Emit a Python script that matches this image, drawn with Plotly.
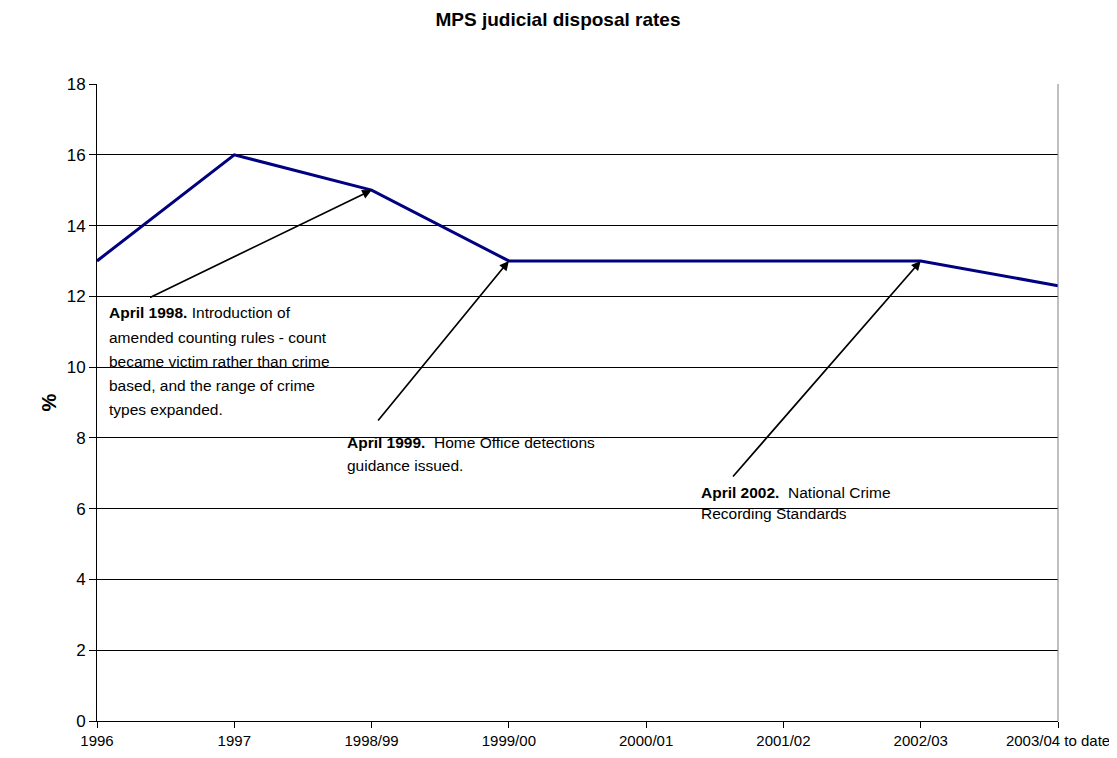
import plotly.graph_objects as go

categories = ["1996", "1997", "1998/99", "1999/00", "2000/01", "2001/02", "2002/03", "2003/04 to date"]
rates = [13, 16, 15, 13, 13, 13, 13, 12.3]
y_ticks = [0, 2, 4, 6, 8, 10, 12, 14, 16, 18]

OFF = 8  # page body margin
W, H = 1117 - OFF, 758 - OFF
L, R, T, B = 97, 1058, 84, 721
FONT = "Arial, Liberation Sans, sans-serif"

def px_paper(px, py):
    return (px - L) / (R - L), (B - py) / (B - T)

idx = list(range(len(categories)))

fig = go.Figure()
fig.add_trace(go.Scatter(x=idx, y=rates, mode="lines",
                         line=dict(color="#000080", width=3), showlegend=False,
                         hoverinfo="skip"))

annotations = []
# arrows: (category index, value, tail dx, tail dy in pixels)
arrows = [(2, rates[2], -223, 108), (3, rates[3], -132, 161), (6, rates[6], -189, 217)]
for xi, yv, dx, dy in arrows:
    annotations.append(dict(x=xi, y=yv, xref="x", yref="y", text="", showarrow=True,
                            ax=dx, ay=dy, axref="pixel", ayref="pixel",
                            arrowhead=2, arrowsize=1.1, arrowwidth=1.7,
                            arrowcolor="black", standoff=0, startstandoff=0))

text_blocks = [
    (109, [312, 337, 361, 385, 409],
     ["<b>April 1998.</b> Introduction of", "amended counting rules - count",
      "became victim rather than crime", "based, and the range of crime",
      "types expanded."]),
    (347, [442, 465], ["<b>April 1999.</b>  Home Office detections", "guidance issued."]),
    (701, [492, 513], ["<b>April 2002.</b>  National Crime", "Recording Standards"]),
]
for lx, ys, lines in text_blocks:
    for py, t in zip(ys, lines):
        xp, yp = px_paper(lx, py)
        annotations.append(dict(x=xp, y=yp, xref="paper", yref="paper", text=t,
                                showarrow=False, xanchor="left", yanchor="middle",
                                xshift=-2,
                                font=dict(family=FONT, size=15.5, color="black")))

fig.update_layout(
    width=W, height=H,
    margin=dict(l=L - OFF, r=W + OFF - R, t=T - OFF, b=H + OFF - B, autoexpand=False),
    paper_bgcolor="white", plot_bgcolor="white",
    title=dict(text="<b>MPS judicial disposal rates</b>", x=(558 - OFF) / W, xanchor="center",
               y=1 - (19 - OFF) / H, yanchor="middle",
               font=dict(family=FONT, size=19, color="black")),
    font=dict(family=FONT, size=15, color="black"),
    xaxis=dict(range=[0, len(categories) - 1], tickvals=idx, ticktext=categories,
               showgrid=False, zeroline=False, showline=True, linecolor="black",
               linewidth=1, ticks="outside", ticklen=6, tickcolor="black",
               tickfont=dict(family=FONT, size=15), fixedrange=True),
    yaxis=dict(range=[0, 18], tickvals=y_ticks, showgrid=True, gridcolor="black",
               gridwidth=1, zeroline=False, showline=True, linecolor="black",
               linewidth=1, ticks="outside", ticklen=7, tickcolor="black",
               tickfont=dict(family=FONT, size=17),
               title=dict(text="<b>%</b>", font=dict(family=FONT, size=20), standoff=4)),
    annotations=annotations,
    shapes=[dict(type="line", xref="paper", yref="paper", x0=1, x1=1, y0=0, y1=1,
                 line=dict(color="#808080", width=1))],
)

fig.write_html("out.html")
